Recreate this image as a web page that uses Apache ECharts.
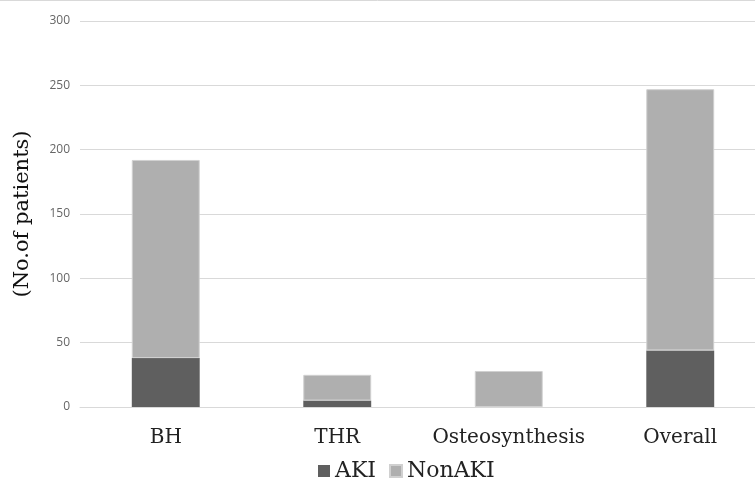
<!DOCTYPE html>
<html>
<head>
	<meta charset="utf-8" />
	<title>AKI by surgery</title>
	<style type="text/css">
	*{margin: 0;padding: 0;}
	#chart{width: 755px;height: 492px;}
	</style>
</head>
<body>
<div id="chart"></div>
<script src="https://cdn.jsdelivr.net/npm/echarts@6/dist/echarts.min.js"></script>
<script type="text/javascript">
	var categories = ['BH', 'THR', 'Osteosynthesis', 'Overall'];
	var akiValues = [38, 5, 0, 44];
	var nonAkiValues = [154, 20, 28, 203];
	var yTicks = [0, 50, 100, 150, 200, 250, 300];

	// 原图的衬线字偏宽，用 DejaVu Serif 近似
	var serif = '"DejaVu Serif", "Liberation Serif", serif';

	var option = {
		animation: false,
		backgroundColor: '#fff',
		// 图表区右边被裁掉了一截，所以宽度超出画布
		grid: {left: 80, width: 686, top: 21, bottom: 85, outerBoundsMode: 'none'},
		graphic: [{
			type: 'line',
			shape: {x1: 0, y1: 0.5, x2: 755, y2: 0.5},
			style: {stroke: '#d9d9d9', lineWidth: 1}
		}],
		legend: {
			data: ['AKI', 'NonAKI'],
			left: 313,
			top: 455,
			itemWidth: 12,
			itemHeight: 12,
			itemGap: 13,
			icon: 'rect',
			textStyle: {fontFamily: serif, fontSize: 22, color: '#222'}
		},
		xAxis: {
			type: 'category',
			data: categories,
			axisLine: {lineStyle: {color: '#d9d9d9'}},
			axisTick: {show: false},
			axisLabel: {interval: 0, fontFamily: serif, fontSize: 20, color: '#222', margin: 21}
		},
		yAxis: {
			type: 'value',
			min: yTicks[0],
			max: yTicks[yTicks.length - 1],
			interval: 50,
			name: '(No.of patients)',
			nameLocation: 'middle',
			nameGap: 47,
			nameTextStyle: {fontFamily: serif, fontSize: 21, color: '#111'},
			axisLine: {show: false},
			axisTick: {show: false},
			axisLabel: {fontFamily: '"Open Sans", sans-serif', fontSize: 12, color: '#666', margin: 10},
			splitLine: {lineStyle: {color: '#d9d9d9'}}
		},
		series: [
			{
				name: 'AKI',
				type: 'bar',
				stack: 'total',
				barWidth: '39.6%',
				data: akiValues,
				itemStyle: {color: '#5f5f5f'}
			},
			{
				name: 'NonAKI',
				type: 'bar',
				stack: 'total',
				barWidth: '39.6%',
				data: nonAkiValues,
				itemStyle: {color: '#afafaf', borderColor: '#d0d0d0', borderWidth: 1}
			}
		]
	};

	var chart = echarts.init(document.getElementById('chart'));
	chart.setOption(option);
</script>
</body>
</html>
